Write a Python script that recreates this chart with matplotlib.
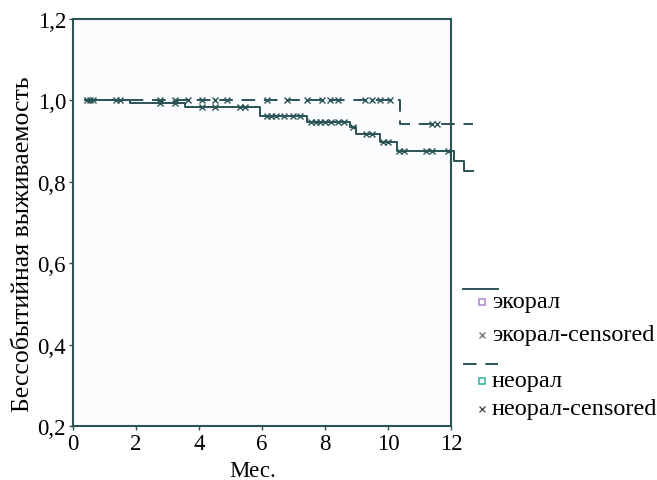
import matplotlib
matplotlib.use("Agg")
import matplotlib.pyplot as plt
from matplotlib.lines import Line2D

plt.rcParams['font.family'] = ['Liberation Serif', 'DejaVu Serif']

# Step curves (time, survival) -- экорал (solid)
ekoral_t = [0.38, 1.8, 3.56, 5.94, 7.43, 8.8, 9.0, 9.75, 10.3, 12.1, 12.4, 12.7]
ekoral_s = [1.0, 0.993, 0.984, 0.961, 0.947, 0.934, 0.917, 0.897, 0.876, 0.85, 0.827, 0.827]
ekoral_cens_t = [0.45, 0.55, 0.65, 1.35, 1.5, 2.76, 3.24, 4.1, 4.5, 5.3, 5.45,
                 6.15, 6.3, 6.45, 6.7, 7.0, 7.2, 7.55, 7.7, 7.85, 8.0, 8.2, 8.4, 8.6,
                 8.9, 9.3, 9.5, 9.85, 10.0, 10.35, 10.5, 11.2, 11.4, 11.9]
# неорал (dashed)
neoral_t = [0.38, 10.38, 12.7]
neoral_s = [1.0, 0.942, 0.942]
neoral_cens_t = [2.76, 3.24, 3.65, 4.1, 4.5, 4.9, 6.17, 6.8, 7.43, 7.9, 8.15, 8.4,
                 9.27, 9.5, 9.75, 10.06, 11.4, 11.55]

xticks = [0, 2, 4, 6, 8, 10, 12]
yticks = [0.2, 0.4, 0.6, 0.8, 1.0, 1.2]

col = '#2a5356'


def surv_at(ts, ss, x):
    v = ss[0]
    for t, s in zip(ts, ss):
        if x >= t:
            v = s
    return v


fig = plt.figure(figsize=(6.57, 4.81), dpi=100)
ax = fig.add_axes([73/657, 54/481, 378/657, 407/481])
ax.set_facecolor('#fbfcfe')

ax.step(ekoral_t, ekoral_s, where='post', color=col, lw=1.4, clip_on=False)
ax.step(neoral_t, neoral_s, where='post', color=col, lw=1.4, ls=(0, (7, 4.5)), clip_on=False)

ax.plot(ekoral_cens_t, [surv_at(ekoral_t, ekoral_s, x) for x in ekoral_cens_t], 'x',
        color=col, ms=4.5, mew=1.0, clip_on=False)
ax.plot(neoral_cens_t, [surv_at(neoral_t, neoral_s, x) for x in neoral_cens_t], 'x',
        color=col, ms=4.5, mew=1.0, clip_on=False)

ax.set_xlim(0, 12)
ax.set_ylim(0.2, 1.2)
ax.set_xticks(xticks)
ax.set_yticks(yticks)
ax.set_xticklabels([str(v) for v in xticks], fontsize=16.5)
ax.set_yticklabels([f"{v:.1f}".replace('.', ',') for v in yticks], fontsize=16.5)
ax.tick_params(length=3, width=1, color=col, pad=2)
for sp in ax.spines.values():
    sp.set_color(col)
    sp.set_linewidth(1.5)

ax.set_xlabel('Мес.', fontsize=16.5)
ax.xaxis.set_label_coords(0.476, -0.083)
ax.set_ylabel('Бессобытийная выживаемость', fontsize=18.5)
ax.yaxis.set_label_coords(-0.104, 0.45)

# Legend drawn in figure pixel coordinates
W, H = 657, 481
def fx(x):
    return x / W
def fy(y):
    return 1 - y / H

fs = 17.5
fig.add_artist(Line2D([fx(463), fx(498)], [fy(290), fy(290)], color=col, lw=1.4))
fig.add_artist(Line2D([fx(482)], [fy(303)], marker='s', ms=4, mfc='none', mec='#b48fd8', mew=1.2, ls='none'))
fig.text(fx(492), fy(303), 'экорал', fontsize=fs, va='center', ha='left')
fig.add_artist(Line2D([fx(482)], [fy(336)], marker='x', ms=4, mec='#777777', mew=1.0, ls='none'))
fig.text(fx(492), fy(336), 'экорал-censored', fontsize=fs, va='center', ha='left')
fig.add_artist(Line2D([fx(463), fx(498)], [fy(365), fy(365)], color=col, lw=1.4, ls=(0, (7, 4.5))))
fig.add_artist(Line2D([fx(482)], [fy(382)], marker='s', ms=4, mfc='none', mec='#3fb8a0', mew=1.2, ls='none'))
fig.text(fx(492), fy(382), 'неорал', fontsize=fs, va='center', ha='left')
fig.add_artist(Line2D([fx(482)], [fy(410)], marker='x', ms=4, mec='#555555', mew=1.0, ls='none'))
fig.text(fx(492), fy(410), 'неорал-censored', fontsize=fs, va='center', ha='left')

fig.savefig('out.png', dpi=100)
